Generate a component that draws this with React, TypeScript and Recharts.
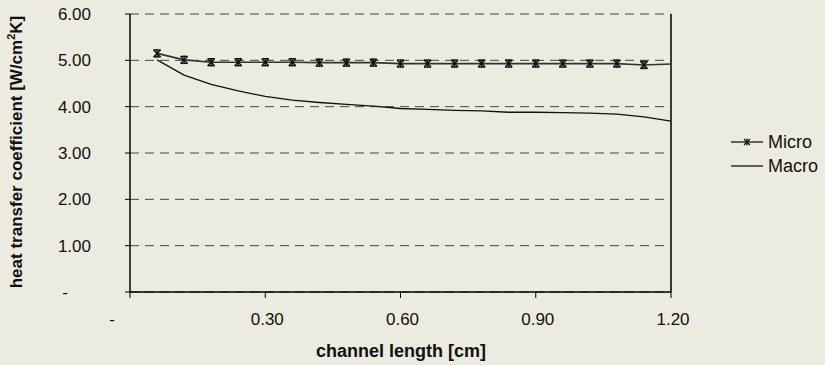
import React from "react";
import { LineChart, Line, XAxis, YAxis, CartesianGrid, ReferenceLine, Label } from "recharts";

// channel length [cm] at each sample
const lengths = [
  0.06, 0.12, 0.18, 0.24, 0.3, 0.36, 0.42, 0.48, 0.54, 0.6,
  0.66, 0.72, 0.78, 0.84, 0.9, 0.96, 1.02, 1.08, 1.14, 1.2,
];
// heat transfer coefficient [W/cm2K]
const microValues = [
  5.15, 5.01, 4.96, 4.96, 4.96, 4.96, 4.95, 4.95, 4.95, 4.93,
  4.93, 4.93, 4.93, 4.93, 4.93, 4.93, 4.93, 4.93, 4.9, 4.92,
];
const macroValues = [
  5.01, 4.68, 4.48, 4.34, 4.22, 4.14, 4.09, 4.05, 4.01, 3.96,
  3.94, 3.92, 3.91, 3.88, 3.88, 3.87, 3.86, 3.84, 3.78, 3.69,
];
const xTicks = [0, 0.3, 0.6, 0.9, 1.2];
const yTicks = [0, 1, 2, 3, 4, 5, 6];

const data = lengths.map((x, i) => ({ x, micro: microValues[i], macro: macroValues[i] }));

const FONT = "'Liberation Sans', Arial, sans-serif";
const BG = "#ebebdf";

const StarDot = (props: any) => {
  const { cx, cy, index } = props;
  if (index === lengths.length - 1 || cx == null) return <g key={index} />;
  return (
    <g key={index} stroke="#111" strokeWidth={1.4}>
      <line x1={cx - 3.5} y1={cy - 3.5} x2={cx + 3.5} y2={cy + 3.5} />
      <line x1={cx - 3.5} y1={cy + 3.5} x2={cx + 3.5} y2={cy - 3.5} />
      <line x1={cx} y1={cy - 4} x2={cx} y2={cy + 4} />
      <line x1={cx - 3.5} y1={cy - 3.5} x2={cx + 3.5} y2={cy - 3.5} />
      <line x1={cx - 3.5} y1={cy + 3.5} x2={cx + 3.5} y2={cy + 3.5} />
    </g>
  );
};

const YTick = (props: any) => {
  const { y, payload } = props;
  if (payload.value === 0) {
    return (
      <text x={65} y={y} dy={6} textAnchor="middle" fontSize={17} fontFamily={FONT} fill="#111">
        -
      </text>
    );
  }
  return (
    <text x={91} y={y} dy={6} textAnchor="end" fontSize={17} fontFamily={FONT} fill="#111">
      {payload.value.toFixed(2)}
    </text>
  );
};

const XTick = (props: any) => {
  const { x, payload } = props;
  const zero = payload.value === 0;
  return (
    <text x={zero ? 112 : x + 2} y={325} textAnchor="middle" fontSize={17} fontFamily={FONT} fill="#111">
      {zero ? "-" : payload.value.toFixed(2)}
    </text>
  );
};

export default function App() {
  return (
    <div style={{ position: "relative", width: 825, height: 365, background: BG, fontFamily: FONT }}>
      <style>{`body{margin:0}`}</style>
      <LineChart
        width={825}
        height={365}
        data={data}
        margin={{ top: 14, right: 154, bottom: 0, left: 0 }}
      >
        <CartesianGrid
          vertical={false}
          stroke="#444"
          strokeDasharray="9 6"
          horizontalValues={yTicks}
        />
        <XAxis
          dataKey="x"
          type="number"
          domain={[0, 1.2]}
          ticks={xTicks}
          height={73}
          tick={<XTick />}
          tickSize={6}
          stroke="#000"
          tickLine={{ stroke: "#000" }}
          axisLine={{ stroke: "#000", strokeWidth: 1.5 }}
        >
          <Label
            content={() => (
              <text x={401} y={357} textAnchor="middle" fontSize={18} fontWeight="bold" fontFamily={FONT} fill="#111">
                channel length [cm]
              </text>
            )}
          />
        </XAxis>
        <YAxis
          type="number"
          domain={[0, 6]}
          ticks={yTicks}
          width={130}
          tick={<YTick />}
          tickSize={5}
          stroke="#000"
          axisLine={{ stroke: "#000", strokeWidth: 1.5 }}
          tickLine={{ stroke: "#000" }}
        >
          <Label
            content={() => (
              <text
                x={22}
                y={152}
                transform="rotate(-90 22 152)"
                textAnchor="middle"
                fontSize={17}
                fontWeight="bold"
                fontFamily={FONT}
                fill="#111"
              >
                heat transfer coefficient [W/cm
                <tspan fontSize={11} dy={-7}>2</tspan>
                <tspan dy={7}>K]</tspan>
              </text>
            )}
          />
        </YAxis>
        <ReferenceLine x={1.2} stroke="#000" strokeWidth={1.5} />
        <Line
          type="linear"
          dataKey="macro"
          stroke="#111"
          strokeWidth={1.3}
          dot={false}
          isAnimationActive={false}
        />
        <Line
          type="linear"
          dataKey="micro"
          stroke="#333"
          strokeWidth={1.6}
          dot={<StarDot />}
          isAnimationActive={false}
        />
      </LineChart>
      <div style={{ position: "absolute", left: 731, top: 130, fontSize: 18, color: "#111", lineHeight: "24px" }}>
        <div style={{ display: "flex", alignItems: "center" }}>
          <svg width={32} height={10} style={{ marginRight: 5 }}>
            <line x1={0} y1={5} x2={32} y2={5} stroke="#333" strokeWidth={1.5} />
            <line x1={13} y1={2} x2={19} y2={8} stroke="#111" strokeWidth={1.3} />
            <line x1={13} y1={8} x2={19} y2={2} stroke="#111" strokeWidth={1.3} />
            <line x1={16} y1={1.5} x2={16} y2={8.5} stroke="#111" strokeWidth={1.3} />
          </svg>
          Micro
        </div>
        <div style={{ display: "flex", alignItems: "center" }}>
          <svg width={32} height={10} style={{ marginRight: 5 }}>
            <line x1={0} y1={5} x2={32} y2={5} stroke="#111" strokeWidth={1.3} />
          </svg>
          Macro
        </div>
      </div>
    </div>
  );
}
